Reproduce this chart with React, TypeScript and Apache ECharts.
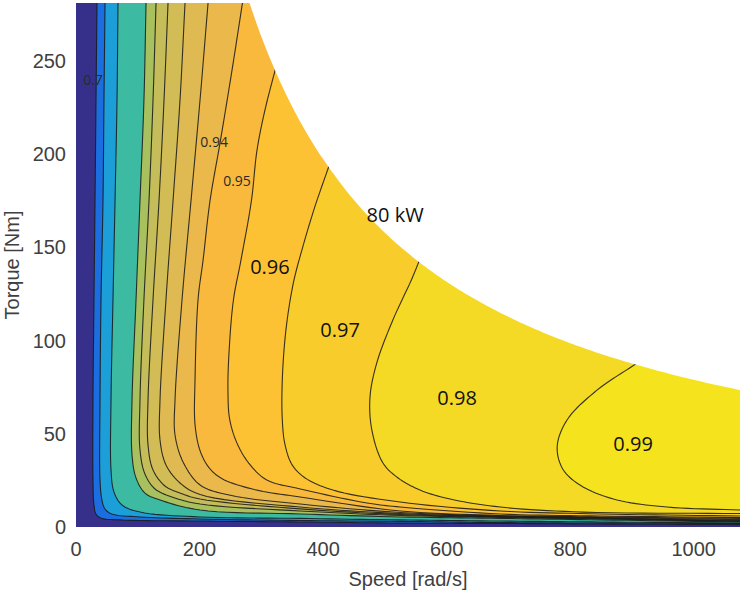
import React, { useEffect, useRef } from "react";
import * as echarts from "echarts";

// ---- axes ----
const SPEED_MAX = 1075;
const TORQUE_MAX = 281;
const speedTickStep = 200;
const torqueTickStep = 50;

// ---- contour lines (speed rad/s, torque Nm) ----
const c070 = [[34, 281], [32.4, 229], [30.8, 175], [29.1, 122], [27.5, 68], [27.5, 25], [29.1, 11.8], [32.4, 7.0], [40.5, 4.8], [71, 3.8], [201, 3.2], [363, 2.7], [525, 2.1], [687, 1.9], [849, 1.6], [1075, 1.3]];
const c075 = [[47, 281], [45.3, 229], [43.7, 175], [40.5, 122], [38.9, 68], [38.9, 25], [42, 14.5], [47, 9.7], [58, 7.0], [104, 5.4], [201, 4.3], [363, 3.5], [525, 3.0], [687, 2.4], [849, 2.1], [1075, 1.9]];
const c080 = [[68, 281], [66.4, 229], [63.2, 175], [59.9, 122], [56.7, 68], [56.7, 30.6], [61.5, 18.8], [74.5, 11.8], [104, 8.0], [201, 5.4], [363, 4.6], [525, 3.8], [687, 3.2], [849, 2.7], [1075, 2.1]];
const c085 = [[113.4, 281], [110, 229], [103.6, 175], [97.2, 122], [90.7, 68], [90.7, 38.6], [97.2, 26.3], [111.7, 18.2], [136, 14.5], [201, 9.1], [363, 7.0], [525, 5.4], [687, 4.6], [849, 3.8], [1075, 2.7]];
const c090 = [[129.6, 281], [124.7, 229], [118.2, 175], [110, 122], [103.6, 68], [103.6, 41.3], [111.7, 28.4], [128, 20.4], [160, 15.6], [201, 12.3], [363, 8.6], [525, 6.2], [687, 5.1], [849, 4.3], [1075, 3.0]];
const c091 = [[149, 281], [142.5, 229], [134.4, 175], [124.7, 122], [116.6, 68], [116.6, 44], [124.7, 30.6], [144, 22], [170, 18], [201, 15.0], [363, 9.7], [525, 6.7], [687, 5.4], [849, 4.6], [1075, 3.2]];
const c092 = [[176.5, 281], [168.4, 229], [157.1, 175], [145.7, 122], [136, 68], [136, 46.7], [145.7, 33.3], [168.4, 23.6], [201, 17.4], [363, 10.7], [525, 7.2], [687, 5.6], [849, 4.8], [1075, 3.5]];
const c093 = [[213.8, 281], [200.8, 229], [186.2, 175], [171.7, 122], [160.3, 68], [160.3, 49.4], [173.3, 34.9], [201, 22.5], [250, 17], [363, 12.3], [525, 7.8], [687, 5.9], [849, 5.1], [1075, 4.0]];
const c094 = [[269.5, 281], [252.6, 245], [233.2, 206], [217, 175], [205.7, 143], [197.6, 122], [192.7, 79], [192.7, 55], [200.8, 41], [215, 32], [236, 26], [290, 20], [363, 16.1], [525, 8.6], [687, 6.2], [849, 5.4], [1075, 4.6]];
const c095 = [[324, 247], [306, 223.7], [293, 202], [284, 175], [267, 143], [255, 122], [248, 95], [246, 73.5], [249, 57.4], [262, 44], [282, 33.3], [309, 25.2], [363, 20.4], [471, 12.9], [525, 10.7], [687, 7.0], [849, 5.9], [1075, 5.1]];
const c096 = [[410, 194], [386, 171], [367, 150], [352, 131], [340, 106], [334, 79], [334, 57.4], [338.5, 44], [350, 33.3], [371, 26.3], [416, 19.8], [525, 13.4], [687, 8.6], [849, 7.0], [1075, 5.9]];
const c097 = [[556, 143], [543, 132.5], [513, 111], [487, 88], [476, 69.7], [479, 52], [497, 34.3], [521.5, 26.3], [557, 19.8], [605.7, 15.0], [687, 10.7], [821, 8.0], [1075, 7.2]];
const c098 = [[909, 88], [844, 73.5], [795, 57.4], [779, 42.9], [789, 30.6], [821, 21.5], [876, 14.5], [957, 10.7], [1075, 9.1]];

const contourLines = [c070, c075, c080, c085, c090, c091, c092, c093, c094, c095, c096, c097, c098];

// ---- band colours (parula) below first line, then above each line ----
const bandColors = ["#36308a", "#1a6ee0", "#1c9fd8", "#3cbba2", "#a8c05d", "#c4bd5a", "#d2bc56", "#dfba53", "#ebb84b", "#f9b93d", "#fdc134", "#f8cd2b", "#f4d925", "#f5e31e"];

// ---- 80 kW power limit (speed, torque) ----
const limitSpeed = [281, 300, 325, 350, 375, 400, 450, 500, 550, 600, 650, 700, 750, 800, 850, 900, 950, 1000, 1075];
const limitTorque = [280.8, 263.0, 242.8, 225.4, 210.4, 197.3, 175.3, 157.8, 143.5, 131.5, 121.4, 112.7, 105.2, 98.6, 92.8, 87.7, 83.1, 78.9, 73.4];

// ---- labels ----
const lineLabelTexts = ["0.7", "0.94", "0.95"];
const lineLabelPos = [[27.5, 240], [223.5, 206.5], [260.7, 186]];
const regionLabelTexts = ["0.96", "0.97", "0.98", "0.99", "80 kW"];
const regionLabelPos = [[314, 139.5], [427.5, 105.7], [617, 69.7], [902, 45], [516.6, 167.4]];

function spline(pts: number[][], seg = 10): number[][] {
  const n = pts.length;
  if (n < 3) return pts.slice();
  const P = (i: number) => {
    if (i < 0) return [2 * pts[0][0] - pts[1][0], 2 * pts[0][1] - pts[1][1]];
    if (i >= n) return [2 * pts[n - 1][0] - pts[n - 2][0], 2 * pts[n - 1][1] - pts[n - 2][1]];
    return pts[i];
  };
  const tj = (ti: number, a: number[], b: number[]) =>
    ti + Math.max(Math.pow(Math.hypot(b[0] - a[0], b[1] - a[1]), 0.5), 1e-4);
  const out: number[][] = [];
  for (let i = 0; i < n - 1; i++) {
    const p0 = P(i - 1), p1 = P(i), p2 = P(i + 1), p3 = P(i + 2);
    const t0 = 0, t1 = tj(t0, p0, p1), t2 = tj(t1, p1, p2), t3 = tj(t2, p2, p3);
    for (let s = 0; s < seg; s++) {
      const t = t1 + ((t2 - t1) * s) / seg;
      const lerp = (a: number[], b: number[], ta: number, tb: number) => [
        ((tb - t) / (tb - ta)) * a[0] + ((t - ta) / (tb - ta)) * b[0],
        ((tb - t) / (tb - ta)) * a[1] + ((t - ta) / (tb - ta)) * b[1],
      ];
      const A1 = lerp(p0, p1, t0, t1), A2 = lerp(p1, p2, t1, t2), A3 = lerp(p2, p3, t2, t3);
      const B1 = lerp(A1, A2, t0, t2), B2 = lerp(A2, A3, t1, t3);
      out.push(lerp(B1, B2, t1, t2));
    }
  }
  out.push(pts[n - 1].slice());
  return out;
}

export default function App() {
  const ref = useRef<HTMLDivElement>(null);
  useEffect(() => {
    if (!ref.current) return;
    const chart = echarts.init(ref.current, undefined, { renderer: "svg" });

    const renderItem = (_params: any, api: any) => {
      const toPx = (p: number[]) => api.coord(p);
      const bl = api.coord([0, 0]);
      const tr = api.coord([SPEED_MAX, TORQUE_MAX]);
      const children: any[] = [];
      children.push({
        type: "rect",
        shape: { x: bl[0], y: tr[1], width: tr[0] - bl[0], height: bl[1] - tr[1] },
        style: { fill: bandColors[0] },
      });
      const smoothLines = contourLines.map((l) => spline(l.map(toPx)));
      smoothLines.forEach((pts, i) => {
        children.push({
          type: "polygon",
          shape: { points: [...pts, tr] },
          style: { fill: bandColors[i + 1] },
        });
      });
      smoothLines.forEach((pts) => {
        children.push({
          type: "polyline",
          shape: { points: pts },
          style: { stroke: "#1a1a1a", lineWidth: 1.1, fill: null, opacity: 0.88 },
        });
      });
      const limitPts = limitSpeed.map((s, i) => toPx([s, limitTorque[i]]));
      const b = spline(limitPts, 10);
      children.push({
        type: "polygon",
        shape: { points: [...b, [tr[0] + 2, b[b.length - 1][1]], [tr[0] + 2, tr[1] - 2], [b[0][0], tr[1] - 2]] },
        style: { fill: "#ffffff" },
      });
      lineLabelTexts.forEach((t, i) => {
        const p = api.coord(lineLabelPos[i]);
        children.push({
          type: "text",
          x: p[0],
          y: p[1],
          style: {
            text: t, fill: "#2a2a2a", font: '14px "Open Sans"',
            align: "center", verticalAlign: "middle", textAlign: "center", textVerticalAlign: "middle",
          },
        });
      });
      regionLabelTexts.forEach((t, i) => {
        const p = api.coord(regionLabelPos[i]);
        children.push({
          type: "text",
          x: p[0],
          y: p[1],
          style: {
            text: t, fill: "#111111", font: '20px "Open Sans"',
            align: "center", verticalAlign: "middle", textAlign: "center", textVerticalAlign: "middle",
          },
        });
      });
      return { type: "group", children };
    };

    const axisText = { color: "#404040", fontFamily: "Liberation Sans", fontSize: 20 };

    chart.setOption({
      animation: false,
      grid: { left: 76, right: 0, top: 3, bottom: 69, containLabel: false, outerBoundsMode: "none" },
      xAxis: {
        type: "value",
        min: 0,
        max: SPEED_MAX,
        interval: speedTickStep,
        axisLine: { show: false },
        axisTick: { show: false },
        splitLine: { show: false },
        axisLabel: { ...axisText, margin: 12, showMaxLabel: false, formatter: (v: number) => String(v) },
        name: "Speed [rad/s]",
        nameLocation: "middle",
        nameGap: 42,
        nameTextStyle: axisText,
      },
      yAxis: {
        type: "value",
        min: 0,
        max: TORQUE_MAX,
        interval: torqueTickStep,
        axisLine: { show: false },
        axisTick: { show: false },
        splitLine: { show: false },
        axisLabel: { ...axisText, margin: 10, showMaxLabel: false, formatter: (v: number) => String(v) },
        name: "Torque [Nm]",
        nameLocation: "middle",
        nameGap: 50,
        nameRotate: 90,
        nameTextStyle: axisText,
      },
      series: [
        {
          type: "custom",
          silent: true,
          renderItem,
          data: [[0, 0]],
          encode: { x: 0, y: 1 },
          z: 1,
        },
      ],
    });
    return () => chart.dispose();
  }, []);
  return (
    <div
      ref={ref}
      style={{ position: "fixed", left: 0, top: 0, width: 740, height: 596, background: "#ffffff" }}
    />
  );
}
